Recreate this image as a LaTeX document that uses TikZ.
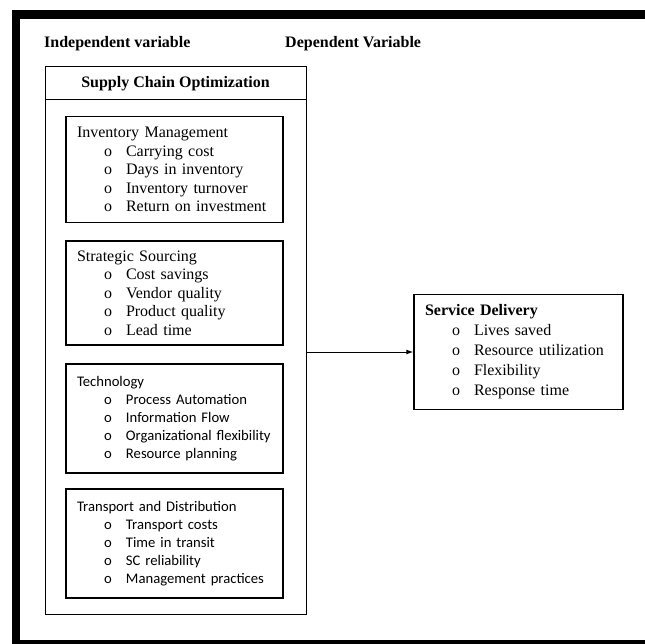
\documentclass[tikz,border=0pt]{standalone}
\usepackage{fontspec}
\setmainfont{Liberation Serif}
\newfontfamily\calibri{Carlito}
\usetikzlibrary{arrows.meta}

% one bullet line inside a box
\newcommand{\itm}[1]{\makebox[49pt][l]{\hspace*{27pt}o}#1}

\begin{document}
\begin{tikzpicture}[x=1pt,y=-1pt,
  catbox/.style={draw,line width=1.4pt,minimum width=217pt,text width=195pt,
    inner xsep=11pt,align=left,font=\fontsize{16}{18.5}\selectfont},
  calbox/.style={catbox,font=\calibri\fontsize{14.67}{17.9}\selectfont},
  head/.style={font=\fontsize{16}{19}\selectfont\bfseries}]
  \useasboundingbox (0,0) rectangle (645,644);
  % heavy frame, cut by the page
  \begin{scope}
    \clip (0,0) rectangle (645,644);
    \draw[line width=8.5pt] (700,14.5) -- (16,14.5) -- (16,644) -- (700,644);
  \end{scope}

  \node[head,anchor=base west,inner sep=0pt] (indep) at (44,48) {Independent variable};
  \node[head,anchor=base west,inner sep=0pt] (dep) at (285,48) {Dependent Variable};

  % independent variable
  \node[draw,line width=1pt,minimum width=261pt,minimum height=547pt] (sco) at (175.5,340.5) {};
  \draw[line width=1pt] (sco.west |- 0,100) -- (sco.east |- 0,100);
  \node[head] (scotitle) at (175.5,83.5) {Supply Chain Optimization};

  \node[catbox,minimum height=106pt] (inv) at (174.5,169.5) {Inventory Management\\
    \itm{Carrying cost}\\ \itm{Days in inventory}\\ \itm{Inventory turnover}\\
    \itm{Return on investment}};
  \node[catbox,minimum height=104pt] (src) at (174.5,293) {Strategic Sourcing\\
    \itm{Cost savings}\\ \itm{Vendor quality}\\ \itm{Product quality}\\
    \itm{Lead time}};
  \node[calbox,minimum height=109pt] (tech) at (174.5,418.5) {Technology\\
    \itm{Process Automation}\\ \itm{Information Flow}\\
    \itm{Organizational flexibility}\\ \itm{Resource planning}};
  \node[calbox,minimum height=109pt] (trans) at (174.5,543.5) {Transport and Distribution\\
    \itm{Transport costs}\\ \itm{Time in transit}\\ \itm{SC reliability}\\
    \itm{Management practices}};

  % dependent variable
  \node[catbox,minimum width=209pt,text width=187pt,minimum height=115pt,
    font=\fontsize{16}{20}\selectfont] (srv) at (518.5,352) {\textbf{Service Delivery}\\
    \itm{Lives saved}\\ \itm{Resource utilization}\\ \itm{Flexibility}\\
    \itm{Response time}};

  \draw[line width=1pt,-{Latex[length=7pt,width=5pt]}] (sco.east |- srv.west) -- (srv.west);
\end{tikzpicture}
\end{document}
